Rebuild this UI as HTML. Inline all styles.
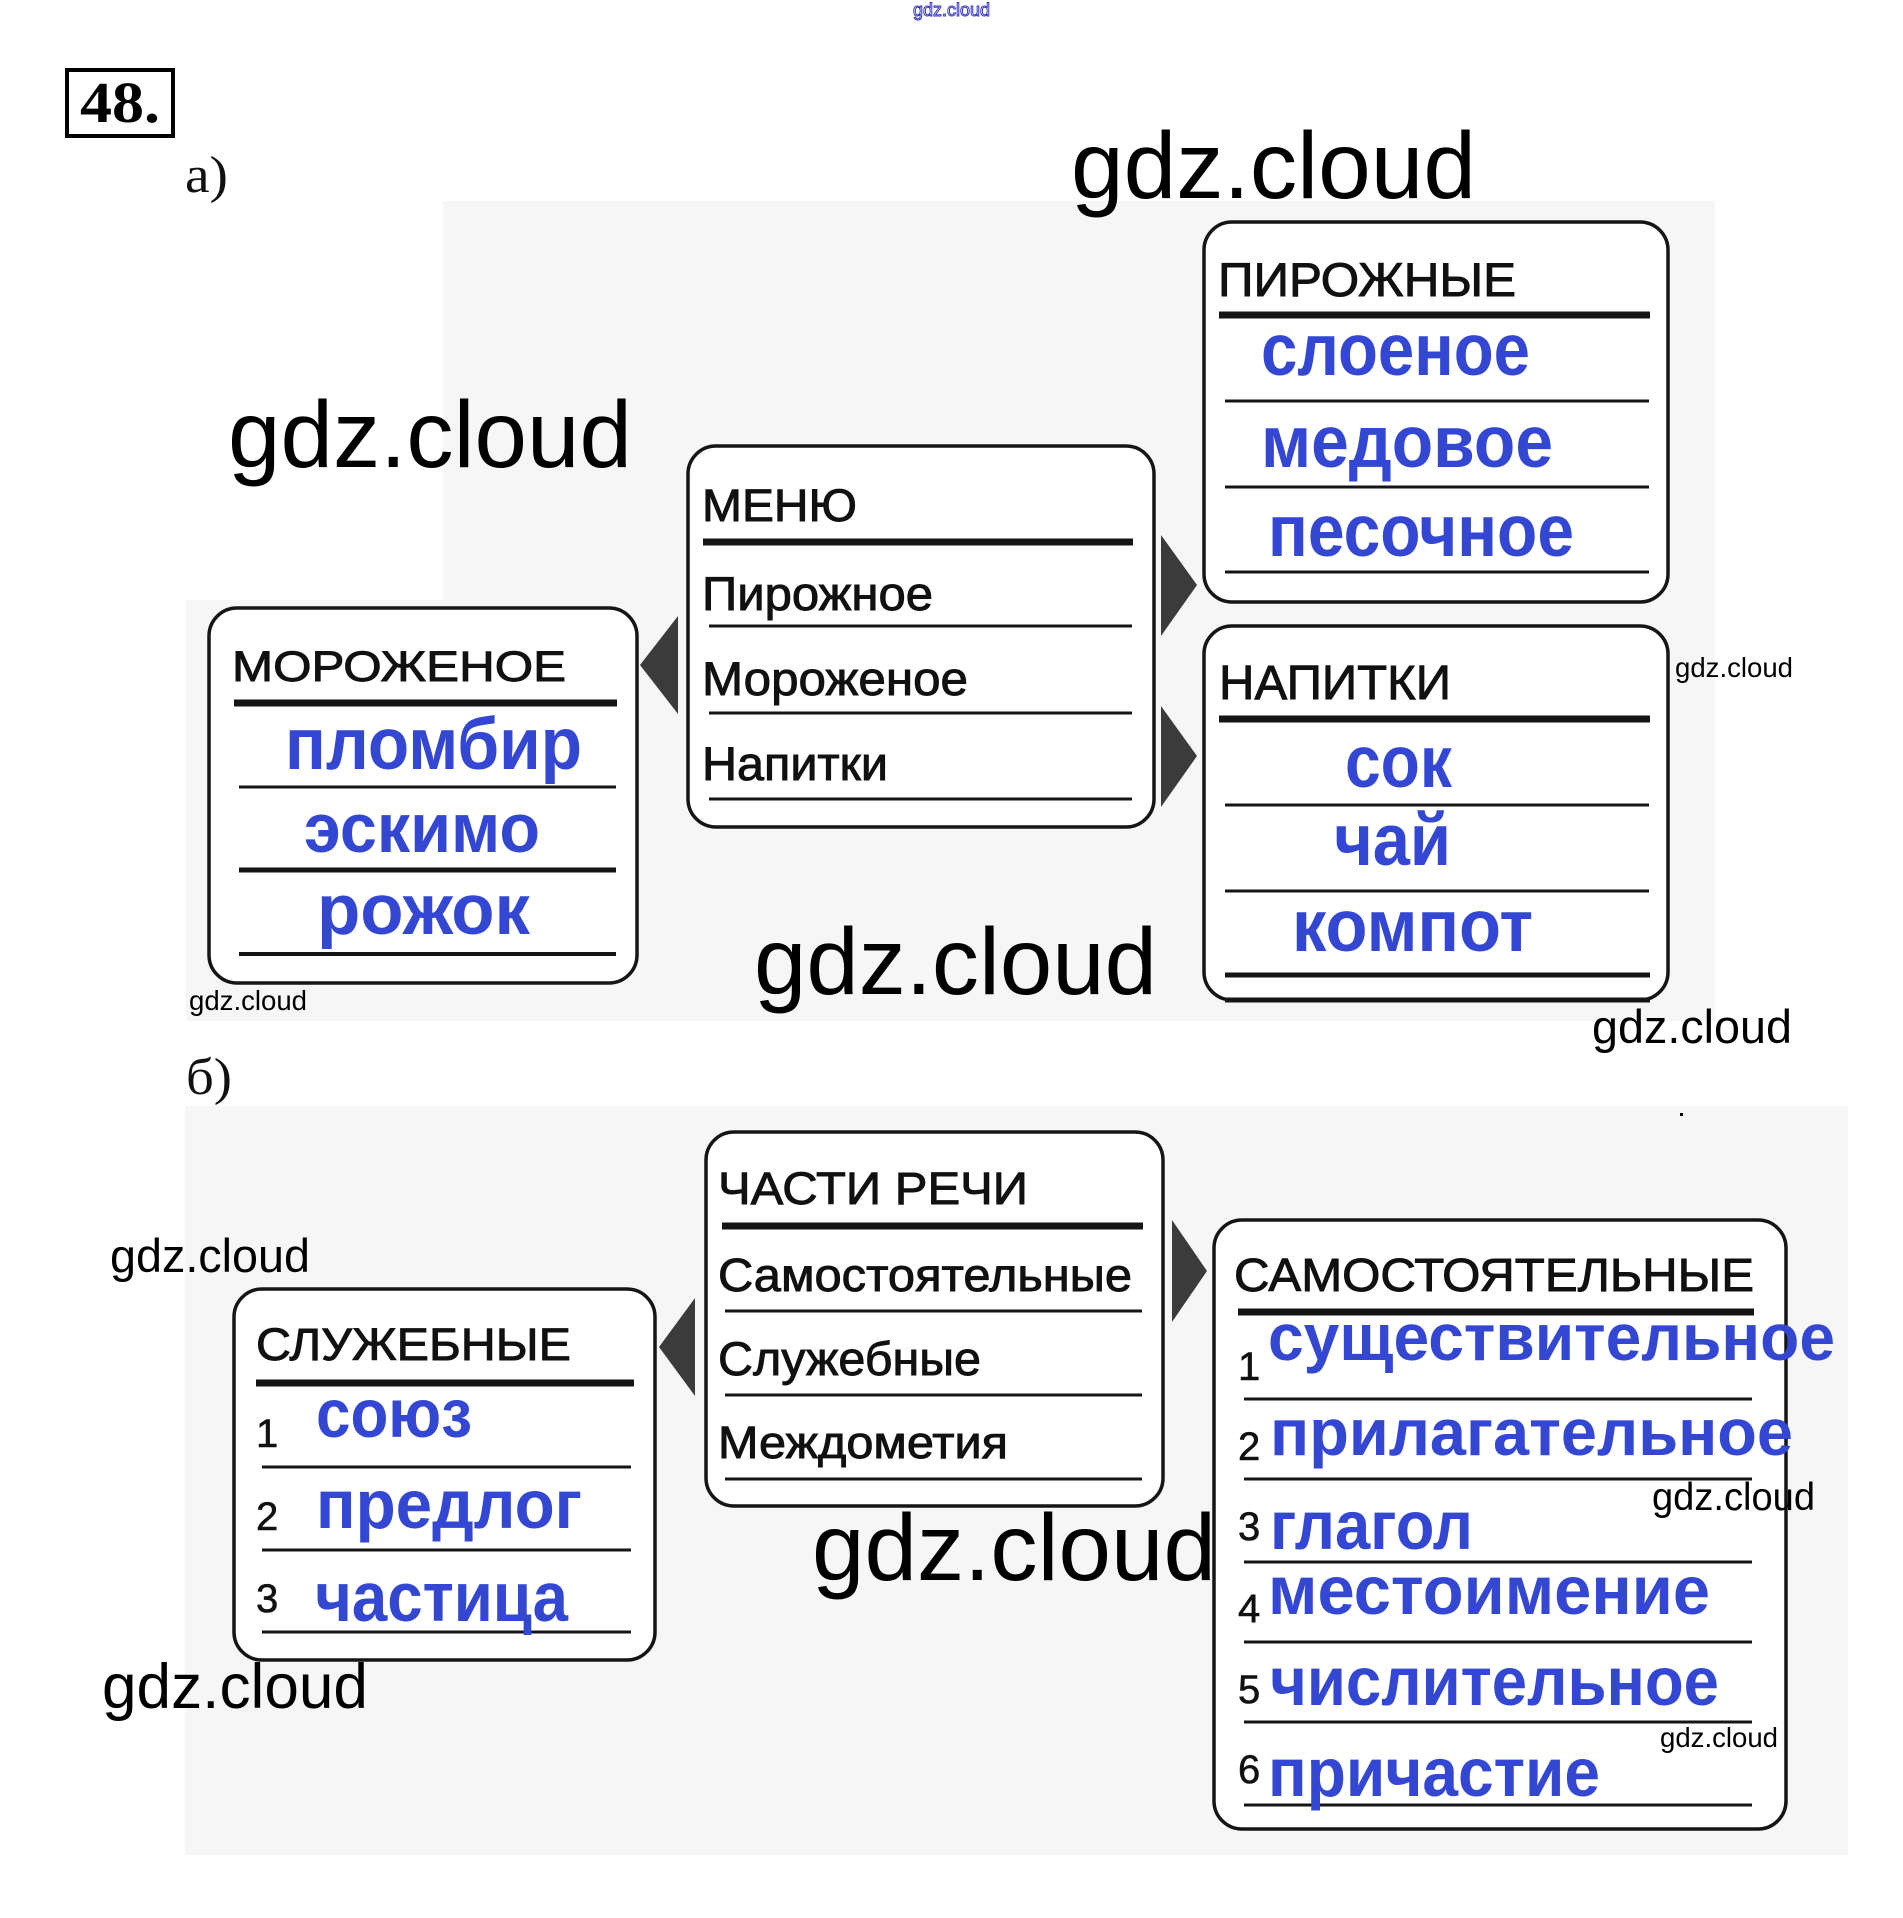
<!DOCTYPE html>
<html>
<head>
<meta charset="utf-8">
<style>
html,body{margin:0;padding:0;background:#fff;}
svg{display:block;}
.h{font-family:"Liberation Sans",Arial,sans-serif;fill:#111;stroke:#111;stroke-width:0.9;}
.b{font-family:"Liberation Sans",Arial,sans-serif;font-weight:bold;fill:#3447d2;}
.w{font-family:"Liberation Sans",Arial,sans-serif;fill:#000;}
.n{font-family:"Liberation Sans",Arial,sans-serif;fill:#111;stroke:#111;stroke-width:0.6;}
</style>
</head>
<body>
<svg width="1903" height="1918" viewBox="0 0 1903 1918" xmlns="http://www.w3.org/2000/svg">
  <rect x="443" y="201" width="1272" height="820" fill="#f6f6f6"/>
  <rect x="186" y="600" width="257" height="421" fill="#f6f6f6"/>
  <rect x="185" y="1106" width="1663" height="749" fill="#f6f6f6"/>

  <text x="913" y="16" font-size="18" textLength="77" lengthAdjust="spacingAndGlyphs" style="font-family:'Liberation Sans',sans-serif;fill:none;stroke:#3636c8;stroke-width:1">gdz.cloud</text>

  <rect x="67" y="70" width="106" height="66" fill="#fff" stroke="#000" stroke-width="4"/>
  <text x="80" y="122" font-size="58" textLength="80" lengthAdjust="spacingAndGlyphs" style="font-family:'Liberation Serif',serif;font-weight:bold;fill:#000">48.</text>

  <text x="185" y="192" font-size="52" textLength="43" lengthAdjust="spacingAndGlyphs" style="font-family:'Liberation Serif',serif;fill:#111">а)</text>
  <text x="186" y="1094" font-size="52" textLength="46" lengthAdjust="spacingAndGlyphs" style="font-family:'Liberation Serif',serif;fill:#111">б)</text>

  <g fill="#fff" stroke="#151515" stroke-width="3.5">
    <rect x="209" y="608" width="428" height="375" rx="28"/>
    <rect x="688" y="446" width="466" height="381" rx="28"/>
    <rect x="1204" y="222" width="464" height="380" rx="28"/>
    <rect x="1204" y="626" width="464" height="374" rx="28"/>
    <rect x="706" y="1132" width="457" height="374" rx="28"/>
    <rect x="234" y="1289" width="421" height="371" rx="28"/>
    <rect x="1214" y="1220" width="572" height="609" rx="28"/>
  </g>

  <g fill="#3b3b3b">
    <polygon points="640,665 678,616 678,714"/>
    <polygon points="1161,535 1197,585 1161,636"/>
    <polygon points="1161,706 1197,756 1161,807"/>
    <polygon points="659,1347 695,1298 695,1396"/>
    <polygon points="1172,1220 1207,1271 1172,1322"/>
  </g>

  <g stroke="#151515" stroke-linecap="butt">
    <line x1="234" y1="703" x2="617" y2="703" stroke-width="7"/>
    <line x1="239" y1="787" x2="616" y2="787" stroke-width="3"/>
    <line x1="239" y1="870" x2="616" y2="870" stroke-width="5"/>
    <line x1="239" y1="954" x2="616" y2="954" stroke-width="4"/>
    <line x1="703" y1="542" x2="1133" y2="542" stroke-width="7"/>
    <line x1="709" y1="626" x2="1132" y2="626" stroke-width="3"/>
    <line x1="709" y1="713" x2="1132" y2="713" stroke-width="3"/>
    <line x1="709" y1="799" x2="1132" y2="799" stroke-width="3"/>
    <line x1="1219" y1="315" x2="1650" y2="315" stroke-width="7"/>
    <line x1="1225" y1="401" x2="1649" y2="401" stroke-width="3"/>
    <line x1="1225" y1="487" x2="1649" y2="487" stroke-width="3"/>
    <line x1="1225" y1="572" x2="1649" y2="572" stroke-width="3"/>
    <line x1="1219" y1="719" x2="1650" y2="719" stroke-width="7"/>
    <line x1="1225" y1="805" x2="1649" y2="805" stroke-width="3"/>
    <line x1="1225" y1="891" x2="1649" y2="891" stroke-width="3"/>
    <line x1="1225" y1="975" x2="1650" y2="975" stroke-width="5"/>
    <line x1="1225" y1="1000" x2="1650" y2="1000" stroke-width="5"/>
    <line x1="722" y1="1226" x2="1143" y2="1226" stroke-width="7"/>
    <line x1="725" y1="1311" x2="1142" y2="1311" stroke-width="3"/>
    <line x1="725" y1="1395" x2="1142" y2="1395" stroke-width="3"/>
    <line x1="725" y1="1479" x2="1142" y2="1479" stroke-width="3"/>
    <line x1="256" y1="1383" x2="634" y2="1383" stroke-width="7"/>
    <line x1="262" y1="1467" x2="631" y2="1467" stroke-width="3"/>
    <line x1="262" y1="1550" x2="631" y2="1550" stroke-width="3"/>
    <line x1="262" y1="1632" x2="631" y2="1632" stroke-width="3"/>
    <line x1="1238" y1="1312" x2="1754" y2="1312" stroke-width="7"/>
    <line x1="1244" y1="1399" x2="1752" y2="1399" stroke-width="3"/>
    <line x1="1244" y1="1479" x2="1752" y2="1479" stroke-width="3"/>
    <line x1="1244" y1="1562" x2="1752" y2="1562" stroke-width="3"/>
    <line x1="1244" y1="1642" x2="1752" y2="1642" stroke-width="3"/>
    <line x1="1244" y1="1722" x2="1752" y2="1722" stroke-width="3"/>
    <line x1="1244" y1="1805" x2="1752" y2="1805" stroke-width="3"/>
  </g>

  <text class="h" x="232" y="681" font-size="43" textLength="334" lengthAdjust="spacingAndGlyphs">МОРОЖЕНОЕ</text>
  <text class="h" x="702" y="521" font-size="45" textLength="155" lengthAdjust="spacingAndGlyphs">МЕНЮ</text>
  <text class="h" x="702" y="610" font-size="47" textLength="231" lengthAdjust="spacingAndGlyphs">Пирожное</text>
  <text class="h" x="702" y="695" font-size="47" textLength="266" lengthAdjust="spacingAndGlyphs">Мороженое</text>
  <text class="h" x="702" y="780" font-size="47" textLength="186" lengthAdjust="spacingAndGlyphs">Напитки</text>
  <text class="h" x="1218" y="296" font-size="47" textLength="298" lengthAdjust="spacingAndGlyphs">ПИРОЖНЫЕ</text>
  <text class="h" x="1219" y="699" font-size="48" textLength="232" lengthAdjust="spacingAndGlyphs">НАПИТКИ</text>

  <text class="h" x="718" y="1204" font-size="45" textLength="310" lengthAdjust="spacingAndGlyphs">ЧАСТИ РЕЧИ</text>
  <text class="h" x="718" y="1291" font-size="46" textLength="414" lengthAdjust="spacingAndGlyphs">Самостоятельные</text>
  <text class="h" x="718" y="1375" font-size="47" textLength="263" lengthAdjust="spacingAndGlyphs">Служебные</text>
  <text class="h" x="718" y="1458" font-size="45" textLength="290" lengthAdjust="spacingAndGlyphs">Междометия</text>
  <text class="h" x="256" y="1360" font-size="45" textLength="315" lengthAdjust="spacingAndGlyphs">СЛУЖЕБНЫЕ</text>
  <text class="h" x="1234" y="1291" font-size="46" textLength="520" lengthAdjust="spacingAndGlyphs">САМОСТОЯТЕЛЬНЫЕ</text>

  <text class="n" x="256" y="1447" font-size="40">1</text>
  <text class="n" x="256" y="1530" font-size="40">2</text>
  <text class="n" x="256" y="1612" font-size="40">3</text>
  <text class="n" x="1238" y="1380" font-size="40">1</text>
  <text class="n" x="1238" y="1460" font-size="40">2</text>
  <text class="n" x="1238" y="1540" font-size="40">3</text>
  <text class="n" x="1238" y="1622" font-size="40">4</text>
  <text class="n" x="1238" y="1703" font-size="40">5</text>
  <text class="n" x="1238" y="1783" font-size="40">6</text>

  <text class="b" x="285" y="769" font-size="73" textLength="297" lengthAdjust="spacingAndGlyphs">пломбир</text>
  <text class="b" x="304" y="852" font-size="70" textLength="236" lengthAdjust="spacingAndGlyphs">эскимо</text>
  <text class="b" x="317" y="934" font-size="71" textLength="213" lengthAdjust="spacingAndGlyphs">рожок</text>
  <text class="b" x="1261" y="375" font-size="73" textLength="269" lengthAdjust="spacingAndGlyphs">слоеное</text>
  <text class="b" x="1261" y="467" font-size="73" textLength="292" lengthAdjust="spacingAndGlyphs">медовое</text>
  <text class="b" x="1268" y="556" font-size="73" textLength="306" lengthAdjust="spacingAndGlyphs">песочное</text>
  <text class="b" x="1345" y="787" font-size="73" textLength="107" lengthAdjust="spacingAndGlyphs">сок</text>
  <text class="b" x="1334" y="865" font-size="73" textLength="117" lengthAdjust="spacingAndGlyphs">чай</text>
  <text class="b" x="1292" y="951" font-size="73" textLength="241" lengthAdjust="spacingAndGlyphs">компот</text>

  <text class="b" x="316" y="1437" font-size="69" textLength="156" lengthAdjust="spacingAndGlyphs">союз</text>
  <text class="b" x="316" y="1528" font-size="69" textLength="266" lengthAdjust="spacingAndGlyphs">предлог</text>
  <text class="b" x="315" y="1621" font-size="70" textLength="253" lengthAdjust="spacingAndGlyphs">частица</text>

  <text class="b" x="1268" y="1360" font-size="66" textLength="567" lengthAdjust="spacingAndGlyphs">существительное</text>
  <text class="b" x="1270" y="1455" font-size="66" textLength="523" lengthAdjust="spacingAndGlyphs">прилагательное</text>
  <text class="b" x="1270" y="1549" font-size="69" textLength="203" lengthAdjust="spacingAndGlyphs">глагол</text>
  <text class="b" x="1268" y="1614" font-size="69" textLength="442" lengthAdjust="spacingAndGlyphs">местоимение</text>
  <text class="b" x="1270" y="1705" font-size="69" textLength="449" lengthAdjust="spacingAndGlyphs">числительное</text>
  <text class="b" x="1268" y="1796" font-size="69" textLength="332" lengthAdjust="spacingAndGlyphs">причастие</text>

  <text class="w" x="1071" y="198" font-size="95" textLength="405" lengthAdjust="spacingAndGlyphs">gdz.cloud</text>
  <text class="w" x="228" y="467" font-size="95" textLength="404" lengthAdjust="spacingAndGlyphs">gdz.cloud</text>
  <text class="w" x="754" y="994" font-size="95" textLength="403" lengthAdjust="spacingAndGlyphs">gdz.cloud</text>
  <text class="w" x="189" y="1010" font-size="28" textLength="118" lengthAdjust="spacingAndGlyphs">gdz.cloud</text>
  <text class="w" x="1675" y="677" font-size="28" textLength="118" lengthAdjust="spacingAndGlyphs">gdz.cloud</text>
  <text class="w" x="1592" y="1043" font-size="47" textLength="200" lengthAdjust="spacingAndGlyphs">gdz.cloud</text>
  <text class="w" x="110" y="1272" font-size="47" textLength="200" lengthAdjust="spacingAndGlyphs">gdz.cloud</text>
  <text class="w" x="102" y="1708" font-size="63" textLength="266" lengthAdjust="spacingAndGlyphs">gdz.cloud</text>
  <text class="w" x="812" y="1580" font-size="95" textLength="404" lengthAdjust="spacingAndGlyphs">gdz.cloud</text>
  <text class="w" x="1652" y="1510" font-size="39" textLength="163" lengthAdjust="spacingAndGlyphs">gdz.cloud</text>
  <text class="w" x="1660" y="1747" font-size="28" textLength="118" lengthAdjust="spacingAndGlyphs">gdz.cloud</text>

  <rect x="1680" y="1113" width="3" height="3" fill="#000"/>
</svg>
</body>
</html>
